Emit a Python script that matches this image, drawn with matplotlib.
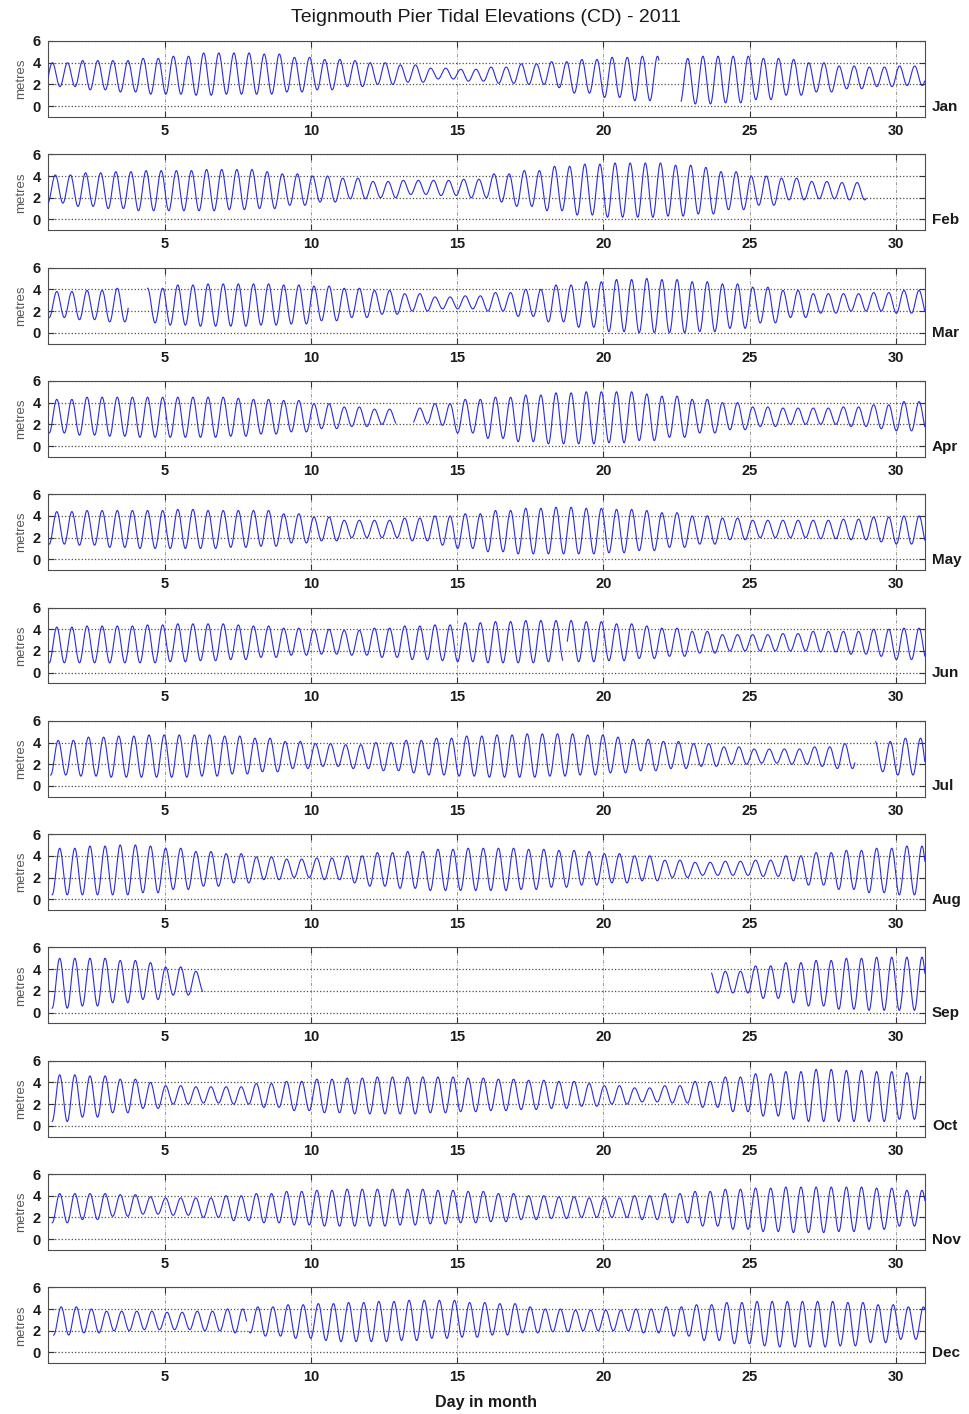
import numpy as np
import matplotlib

matplotlib.use("Agg")
import matplotlib.pyplot as plt

plt.rcParams["font.family"] = ["Liberation Sans", "DejaVu Sans"]

months = ["Jan", "Feb", "Mar", "Apr", "May", "Jun",
          "Jul", "Aug", "Sep", "Oct", "Nov", "Dec"]

# daily high water / low water heights (m, CD)
hw_jan = [4.0, 4.2, 4.2, 4.4, 4.6, 4.9, 4.9, 4.8, 4.5, 4.3, 4.2, 4.0, 3.8, 3.5, 3.4, 3.6,
          3.9, 4.1, 4.3, 4.5, 4.6, 4.4, 4.6, 4.6, 4.4, 4.3, 4.0, 3.7, 3.6, 3.7, 3.7]
lw_jan = [1.8, 1.5, 1.3, 1.1, 1.1, 1.0, 1.1, 1.1, 1.3, 1.5, 1.8, 2.0, 2.2, 2.5, 2.3, 2.1,
          2.0, 1.7, 1.2, 0.8, 0.5, 0.3, 0.2, 0.3, 0.6, 1.0, 1.3, 1.6, 1.8, 1.9, 1.8]
hw_feb = [4.1, 4.3, 4.4, 4.5, 4.5, 4.6, 4.6, 4.4, 4.2, 4.0, 3.8, 3.5, 3.6, 3.6, 3.7, 4.2,
          4.5, 4.9, 5.1, 5.2, 5.2, 5.0, 4.8, 4.4, 4.0, 3.8, 3.5, 3.4]
lw_feb = [1.5, 1.2, 1.0, 0.8, 0.8, 0.8, 0.9, 1.0, 1.3, 1.6, 1.9, 2.0, 2.3, 2.2, 2.0, 1.6,
          1.2, 0.8, 0.4, 0.2, 0.2, 0.3, 0.5, 0.9, 1.3, 1.8, 1.9, 1.8]
hw_mar = [3.8, 3.9, 4.1, 4.1, 4.4, 4.5, 4.5, 4.5, 4.4, 4.3, 4.1, 3.9, 3.6, 3.3, 3.4, 3.7,
          4.0, 4.4, 4.7, 4.9, 5.0, 4.9, 4.7, 4.5, 4.2, 3.9, 3.6, 3.6, 3.7, 3.9, 3.8]
lw_mar = [1.4, 1.2, 1.0, 0.9, 0.7, 0.6, 0.6, 0.7, 0.8, 1.1, 1.4, 1.7, 2.0, 2.2, 2.2, 2.0,
          1.5, 1.0, 0.5, 0.1, 0.0, 0.0, 0.1, 0.4, 0.9, 1.4, 1.8, 2.0, 2.0, 1.8, 1.7]
hw_apr = [4.3, 4.5, 4.5, 4.5, 4.5, 4.5, 4.4, 4.3, 4.2, 3.9, 3.6, 3.4, 3.5, 3.9, 4.3, 4.5,
          4.7, 4.9, 5.0, 5.0, 4.8, 4.6, 4.3, 4.0, 3.6, 3.5, 3.5, 3.6, 3.8, 4.1, 4.2]
lw_apr = [1.2, 1.0, 0.9, 0.8, 0.8, 0.8, 0.9, 1.1, 1.3, 1.6, 1.8, 2.0, 2.1, 1.9, 1.2, 0.7,
          0.4, 0.2, 0.2, 0.3, 0.5, 0.8, 1.2, 1.5, 1.8, 2.0, 2.0, 1.8, 1.6, 1.4, 1.4]
hw_may = [4.4, 4.5, 4.5, 4.5, 4.6, 4.5, 4.5, 4.5, 4.2, 3.9, 3.6, 3.6, 3.8, 4.0, 4.2, 4.5,
          4.7, 4.8, 4.7, 4.6, 4.5, 4.3, 4.0, 3.8, 3.6, 3.6, 3.6, 3.7, 3.9, 4.0, 4.1]
lw_may = [1.4, 1.3, 1.1, 1.0, 1.0, 1.0, 1.1, 1.2, 1.5, 1.7, 2.0, 2.0, 1.7, 1.3, 1.0, 0.7,
          0.5, 0.5, 0.5, 0.6, 0.8, 1.1, 1.4, 1.8, 2.0, 2.0, 1.9, 1.8, 1.6, 1.4, 1.4]
hw_jun = [4.2, 4.3, 4.3, 4.4, 4.5, 4.5, 4.4, 4.3, 4.1, 4.0, 3.9, 4.1, 4.3, 4.4, 4.6, 4.7,
          4.8, 4.8, 4.7, 4.5, 4.3, 4.1, 3.8, 3.5, 3.5, 3.6, 3.8, 3.8, 4.0, 4.1, 4.2]
lw_jun = [0.9, 0.9, 0.9, 0.9, 1.0, 1.1, 1.2, 1.4, 1.6, 1.7, 1.6, 1.4, 1.2, 1.1, 1.0, 0.9,
          0.9, 1.0, 1.0, 1.1, 1.3, 1.5, 1.8, 2.0, 2.0, 2.0, 1.9, 1.7, 1.5, 1.2, 1.1]
hw_jul = [4.2, 4.5, 4.6, 4.7, 4.7, 4.7, 4.6, 4.4, 4.1, 3.9, 3.8, 4.0, 4.2, 4.4, 4.6, 4.7,
          4.8, 4.8, 4.7, 4.5, 4.3, 4.1, 3.9, 3.6, 3.4, 3.4, 3.6, 3.9, 4.1, 4.4, 4.6]
lw_jul = [1.0, 0.9, 0.8, 0.8, 0.8, 0.9, 1.1, 1.3, 1.6, 1.8, 1.6, 1.4, 1.2, 1.0, 0.9, 0.8,
          0.8, 0.9, 1.0, 1.2, 1.4, 1.6, 1.8, 2.0, 2.1, 2.0, 1.8, 1.6, 1.3, 1.0, 0.8]
hw_aug = [4.7, 4.9, 5.0, 4.9, 4.7, 4.4, 4.2, 3.9, 3.7, 3.8, 4.0, 4.3, 4.4, 4.6, 4.7, 4.7,
          4.6, 4.5, 4.4, 4.2, 4.0, 3.6, 3.4, 3.5, 3.6, 4.0, 4.3, 4.5, 4.7, 4.9, 5.1]
lw_aug = [0.4, 0.4, 0.4, 0.6, 0.9, 1.2, 1.5, 1.8, 2.0, 1.8, 1.5, 1.2, 1.0, 0.8, 0.8, 0.8,
          0.9, 1.1, 1.3, 1.5, 1.7, 2.0, 2.2, 2.2, 2.1, 1.7, 1.3, 0.9, 0.6, 0.4, 0.4]
hw_sep = [5.0, 5.0, 4.8, 4.6, 4.2, 3.8, None, None, None, None, None, None, None, None, None, None,
          None, None, None, None, None, None, 3.8, 3.8, 4.3, 4.6, 4.8, 5.0, 5.1, 5.1, 5.0]
lw_sep = [0.4, 0.6, 0.9, 1.2, 1.6, 1.9, None, None, None, None, None, None, None, None, None, None,
          None, None, None, None, None, None, 1.8, 1.8, 1.3, 0.9, 0.6, 0.3, 0.2, 0.2, 0.3]
hw_oct = [4.7, 4.6, 4.3, 4.0, 3.7, 3.6, 3.6, 3.9, 4.1, 4.3, 4.4, 4.5, 4.5, 4.5, 4.4, 4.3,
          4.2, 4.1, 3.9, 3.7, 3.5, 3.7, 4.1, 4.5, 4.8, 5.0, 5.2, 5.1, 5.0, 4.9, 4.9]
lw_oct = [0.4, 0.8, 1.2, 1.6, 2.0, 2.1, 2.0, 1.7, 1.4, 1.2, 1.1, 1.1, 1.1, 1.2, 1.3, 1.4,
          1.5, 1.6, 1.8, 2.0, 2.2, 2.1, 1.7, 1.3, 0.9, 0.6, 0.4, 0.4, 0.4, 0.6, 0.8]
hw_nov = [4.2, 4.2, 4.1, 3.9, 3.8, 3.8, 4.0, 4.2, 4.4, 4.5, 4.6, 4.6, 4.6, 4.5, 4.4, 4.2,
          4.0, 3.9, 3.8, 3.8, 4.0, 4.2, 4.4, 4.6, 4.7, 4.8, 4.8, 4.8, 4.7, 4.5, 4.2]
lw_nov = [1.5, 1.8, 2.1, 2.3, 2.2, 2.0, 1.7, 1.5, 1.3, 1.2, 1.2, 1.2, 1.3, 1.4, 1.5, 1.6,
          1.8, 1.9, 2.0, 2.0, 1.8, 1.5, 1.2, 0.9, 0.7, 0.6, 0.6, 0.7, 0.9, 1.2, 1.5]
hw_dec = [4.2, 4.0, 3.8, 3.8, 3.7, 3.8, 4.0, 4.2, 4.4, 4.5, 4.6, 4.7, 4.8, 4.8, 4.6, 4.5,
          4.2, 4.0, 3.9, 3.9, 4.0, 4.2, 4.4, 4.6, 4.7, 4.7, 4.7, 4.6, 4.4, 4.2, 4.1]
lw_dec = [1.6, 1.8, 2.0, 2.1, 2.1, 2.0, 1.8, 1.5, 1.3, 1.1, 1.0, 1.0, 1.1, 1.3, 1.4, 1.6,
          1.8, 1.9, 2.0, 2.0, 1.8, 1.5, 1.1, 0.8, 0.6, 0.5, 0.5, 0.6, 0.9, 1.2, 1.4]

high_waters = [hw_jan, hw_feb, hw_mar, hw_apr, hw_may, hw_jun,
               hw_jul, hw_aug, hw_sep, hw_oct, hw_nov, hw_dec]
low_waters = [lw_jan, lw_feb, lw_mar, lw_apr, lw_may, lw_jun,
              lw_jul, lw_aug, lw_sep, lw_oct, lw_nov, lw_dec]

# time (day) of first high water in each month
first_hw = [1.15, 1.25, 1.3, 1.3, 1.3, 1.3, 1.35, 1.4, 1.4, 1.4, 1.4, 1.45]

# periods with recorded data (gaps elsewhere)
segments = [
    [(1, 21.9), (22.65, 31)],
    [(1, 29.0)],
    [(1, 3.75), (4.4, 31)],
    [(1, 12.9), (13.5, 31)],
    [(1, 31)],
    [(1, 18.62), (18.75, 31)],
    [(1, 28.6), (29.3, 31)],
    [(1, 31)],
    [(1, 6.3), (23.7, 31)],
    [(1, 30.85)],
    [(1, 31)],
    [(1, 7.8), (7.88, 31)],
]

HALF_TIDE = 12.42 / 24 / 2


def tide_curve(hw, lw, t0, segs):
    hw = np.array([np.nan if v is None else v for v in hw], float)
    lw = np.array([np.nan if v is None else v for v in lw], float)
    n = len(hw)
    times = np.arange(t0 - HALF_TIDE, 31.0 + 2 * HALF_TIDE, HALF_TIDE)
    idx = np.clip(np.floor(times).astype(int), 1, n) - 1
    is_hw = np.arange(len(times)) % 2 == 1
    levels = np.where(is_hw, hw[idx], lw[idx])
    s = np.linspace(0, 1, 16, endpoint=False)
    t, y = [], []
    for k in range(len(times) - 1):
        t.append(times[k] + s * HALF_TIDE)
        y.append(levels[k] + (levels[k + 1] - levels[k]) * (1 - np.cos(np.pi * s)) / 2)
    t = np.concatenate(t)
    y = np.concatenate(y)
    mask = np.zeros(t.shape, bool)
    for a, b in segs:
        mask |= (t >= a) & (t <= b)
    return t, np.where(mask, y, np.nan)


W, H = 969, 1414
fig = plt.figure(figsize=(W / 100, H / 100), dpi=100)
left, right = 48, 925
for i, name in enumerate(months):
    top = 41 + i * 113.3
    ax = fig.add_axes([left / W, 1 - (top + 76) / H, (right - left) / W, 76 / H])
    t, y = tide_curve(high_waters[i], low_waters[i], first_hw[i], segments[i])
    ax.plot(t, y, color="#2a2ae6", lw=0.8, zorder=3)
    ax.set_xlim(1, 31)
    ax.set_ylim(-1, 6)
    ax.set_xticks([5, 10, 15, 20, 25, 30])
    ax.set_yticks([0, 2, 4, 6])
    ax.grid(True, axis="y", linestyle=":", color="0.3", linewidth=0.9)
    ax.grid(True, axis="x", linestyle=(0, (4, 2, 1, 2)), color="0.55", linewidth=0.6)
    ax.tick_params(direction="in", top=True, right=True, length=4, labelsize=10.5,
                   pad=5, color="0.2")
    for lab in ax.get_xticklabels() + ax.get_yticklabels():
        lab.set_fontweight("bold")
        lab.set_color("0.1")
    for sp in ax.spines.values():
        sp.set_color("0.3")
        sp.set_linewidth(0.8)
    ax.set_ylabel("metres", fontsize=9.5, color="0.35", labelpad=4)
    ax.text(1.008, -0.05, name, transform=ax.get_yaxis_transform(), ha="left", va="center",
            fontsize=11, fontweight="bold", color="0.1")

fig.text(486 / W, 1 - 18 / H, "Teignmouth Pier Tidal Elevations (CD) - 2011",
         ha="center", va="center", fontsize=14, color="0.1")
fig.text(486 / W, 1 - 1402 / H, "Day in month", ha="center", va="center",
         fontsize=11.5, fontweight="bold", color="0.1")

fig.savefig("out.png", dpi=100)
